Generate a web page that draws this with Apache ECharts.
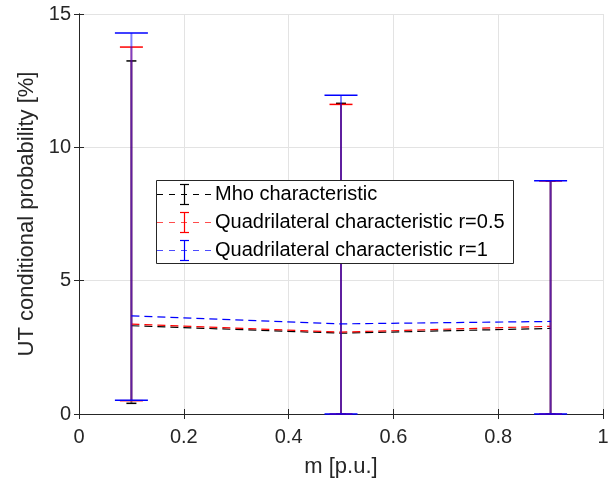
<!DOCTYPE html>
<html>
<head>
<meta charset="utf-8">
<script src="https://cdn.jsdelivr.net/npm/echarts@6/dist/echarts.min.js"></script>
<style>html,body{margin:0;padding:0;background:#fff}#c{width:616px;height:488px}</style>
</head>
<body>
<div id="c"></div>
<script>
var xValues = [0.1, 0.5, 0.9];
var mhoMean = [3.31, 3.03, 3.21];
var mhoLow = [0.40, 0, 0];
var mhoHigh = [13.24, 11.65, 8.74];
var quad05Mean = [3.37, 3.07, 3.29];
var quad05Low = [0.50, 0, 0];
var quad05High = [13.76, 11.61, 8.74];
var quad1Mean = [3.68, 3.38, 3.47];
var quad1Low = [0.52, 0, 0];
var quad1High = [14.29, 11.95, 8.75];
var seriesNames = ['Mho characteristic', 'Quadrilateral characteristic r=0.5', 'Quadrilateral characteristic r=1'];
var xTicks = [0, 0.2, 0.4, 0.6, 0.8, 1];
var yTicks = [0, 5, 10, 15];

var FONT = '"Liberation Sans", Arial, Helvetica, sans-serif';
var TXT = '#262626';
var colors = ['#000000', '#ff0000', '#0000ff'];
var capHalf = [5, 11.5, 16.5];
var means = [mhoMean, quad05Mean, quad1Mean];
var lows = [mhoLow, quad05Low, quad1Low];
var highs = [mhoHigh, quad05High, quad1High];

function errRender(idx) {
  return function (params, api) {
    var x = api.value(0), lo = api.value(1), hi = api.value(2);
    var pLo = api.coord([x, lo]);
    var pHi = api.coord([x, hi]);
    var c = colors[idx];
    var h = capHalf[idx];
    return {
      type: 'group',
      children: [
        {type: 'line', shape: {x1: pLo[0], y1: pLo[1], x2: pHi[0], y2: pHi[1]},
         style: {stroke: c, lineWidth: 2, opacity: 0.5}},
        {type: 'line', shape: {x1: pHi[0] - h, y1: pHi[1], x2: pHi[0] + h, y2: pHi[1]},
         style: {stroke: c, lineWidth: 1.5}},
        {type: 'line', shape: {x1: pLo[0] - h, y1: pLo[1], x2: pLo[0] + h, y2: pLo[1]},
         style: {stroke: c, lineWidth: 1.5}}
      ]
    };
  };
}

var series = [];
for (var i = 0; i < 3; i++) {
  series.push({
    type: 'line', name: seriesNames[i], symbol: 'none', silent: true,
    data: xValues.map(function (x, k) { return [x, means[i][k]]; }),
    lineStyle: {color: colors[i], width: 1.2, type: [8, 5]},
    z: 3 + i * 2
  });
  series.push({
    type: 'custom', name: seriesNames[i] + ' err', silent: true,
    renderItem: errRender(i),
    data: xValues.map(function (x, k) { return [x, lows[i][k], highs[i][k]]; }),
    encode: {x: 0, y: [1, 2]},
    z: 4 + i * 2
  });
}

// legend drawn as graphic
var legX = 156, legY = 180, legW = 357, legH = 83;
var rowY = [194, 222, 250];
var graphics = [{
  type: 'rect', shape: {x: legX + 0.5, y: legY + 0.5, width: legW, height: legH},
  style: {fill: '#fff', stroke: TXT, lineWidth: 1}, z: 100
}];
for (var j = 0; j < 3; j++) {
  var y = rowY[j] + 0.5;
  graphics.push({type: 'line', shape: {x1: 157, y1: y, x2: 211, y2: y},
    style: {stroke: colors[j], lineWidth: 1, lineDash: [6, 6], opacity: j === 0 ? 1 : 0.7}, z: 101});
  graphics.push({type: 'line', shape: {x1: 184.5, y1: y - 10, x2: 184.5, y2: y + 10},
    style: {stroke: colors[j], lineWidth: 1.2}, z: 101});
  graphics.push({type: 'line', shape: {x1: 180, y1: y - 10, x2: 189, y2: y - 10},
    style: {stroke: colors[j], lineWidth: 1.2}, z: 101});
  graphics.push({type: 'line', shape: {x1: 180, y1: y + 10, x2: 189, y2: y + 10},
    style: {stroke: colors[j], lineWidth: 1.2}, z: 101});
  graphics.push({type: 'text', x: 215, y: rowY[j],
    style: {text: seriesNames[j], fill: '#000', font: '20px ' + FONT, textVerticalAlign: 'middle', textAlign: 'left'}, z: 101});
}

var axisCommon = {
  axisLine: {show: true, lineStyle: {color: TXT, width: 1}},
  axisTick: {show: true, inside: true, length: 5, lineStyle: {color: TXT}},
  splitLine: {show: true, lineStyle: {color: '#e3e3e3', width: 1}}
};

var chart = echarts.init(document.getElementById('c'), null, {renderer: 'canvas'});
chart.setOption({
  animation: false,
  backgroundColor: '#fff',
  grid: {left: 79, right: 13, top: 14, bottom: 74, show: false},
  xAxis: [{
    type: 'value', min: xTicks[0], max: xTicks[xTicks.length - 1], interval: 0.2,
    name: 'm [p.u.]', nameLocation: 'middle', nameGap: 42,
    nameTextStyle: {fontFamily: FONT, fontSize: 22, color: TXT},
    axisLabel: {fontFamily: FONT, fontSize: 20, color: TXT, margin: 13,
      formatter: function (v) { return String(Math.round(v * 10) / 10); }},
    axisLine: axisCommon.axisLine, axisTick: axisCommon.axisTick, splitLine: axisCommon.splitLine
  }, {
    type: 'value', position: 'top', min: 0, max: 1, interval: 0.2,
    axisLabel: {show: false}, axisLine: axisCommon.axisLine, axisTick: axisCommon.axisTick,
    splitLine: {show: false}
  }],
  yAxis: [{
    type: 'value', min: yTicks[0], max: yTicks[yTicks.length - 1], interval: 5,
    name: 'UT conditional probability [%]', nameLocation: 'middle', nameGap: 41,
    nameTextStyle: {fontFamily: FONT, fontSize: 22, color: TXT},
    axisLabel: {fontFamily: FONT, fontSize: 20, color: TXT, margin: 8},
    axisLine: axisCommon.axisLine, axisTick: axisCommon.axisTick, splitLine: axisCommon.splitLine
  }, {
    type: 'value', position: 'right', min: 0, max: 15, interval: 5,
    axisLabel: {show: false}, axisLine: axisCommon.axisLine, axisTick: axisCommon.axisTick,
    splitLine: {show: false}
  }],
  series: series,
  graphic: graphics
});
</script>
</body>
</html>
